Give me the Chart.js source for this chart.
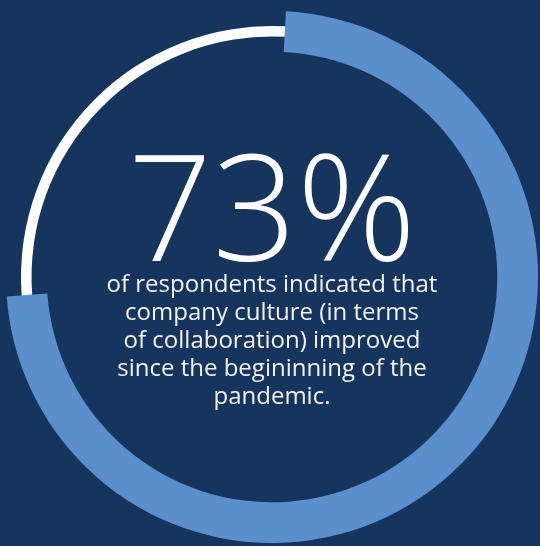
<!DOCTYPE html>
<html>
<head>
<meta charset="utf-8">
<script src="https://cdn.jsdelivr.net/npm/chart.js@4.4.1/dist/chart.umd.min.js"></script>
<style>
  html, body { margin: 0; padding: 0; }
  body { width: 540px; height: 546px; background: #16355e; overflow: hidden; position: relative; font-family: "Open Sans", "Noto Sans", sans-serif; color: #fff; }
  .layer { position: absolute; left: 0; top: 0; width: 540px; height: 546px; }
  #big { position: absolute; left: 0; width: 544px; top: 130px; text-align: center; font-size: 148px; line-height: 148px; font-weight: 300; }
  #desc { position: absolute; left: 0; width: 544px; top: 269px; text-align: center; font-size: 24px; line-height: 28px; color: #f2f4f7; }
</style>
</head>
<body>
<div class="layer"><canvas id="anel"></canvas></div>
<div class="layer"><canvas id="resto"></canvas></div>
<div id="big"></div>
<div id="desc"></div>
<script>
// === Dados ===
var categorias = ['Melhorou', 'Outros'];
var valores = [73, 27];
var linhasTexto = [
  'of respondents indicated that',
  'company culture (in terms',
  'of collaboration) improved',
  'since the begininning of the',
  'pandemic.'
];

document.getElementById('big').textContent = valores[0] + '%';
document.getElementById('desc').innerHTML = linhasTexto.join('<br>');

var azul = '#5b8fcb';
var branco = '#ffffff';
var vazio = 'rgba(0,0,0,0)';

var opcoesBase = {
  responsive: false,
  animation: false,
  rotation: 3,
  layout: { padding: { left: 4, top: 8 } },
  plugins: { legend: { display: false }, tooltip: { enabled: false } },
  events: []
};

function criarCanvas(id) {
  var c = document.getElementById(id);
  c.width = 540;
  c.height = 546;
  return c;
}

// === Arco grosso azul (73%) ===
new Chart(criarCanvas('anel'), {
  type: 'doughnut',
  data: {
    labels: categorias,
    datasets: [{
      data: valores,
      backgroundColor: [azul, vazio],
      borderWidth: 0
    }]
  },
  options: Object.assign({}, opcoesBase, { radius: 266, cutout: '84.7%' })
});

// === Linha fina branca (restante) ===
new Chart(criarCanvas('resto'), {
  type: 'doughnut',
  data: {
    labels: categorias,
    datasets: [{
      data: valores,
      backgroundColor: [vazio, branco],
      borderWidth: 0
    }]
  },
  options: Object.assign({}, opcoesBase, { radius: 251, cutout: '95.8%' })
});
</script>
</body>
</html>
